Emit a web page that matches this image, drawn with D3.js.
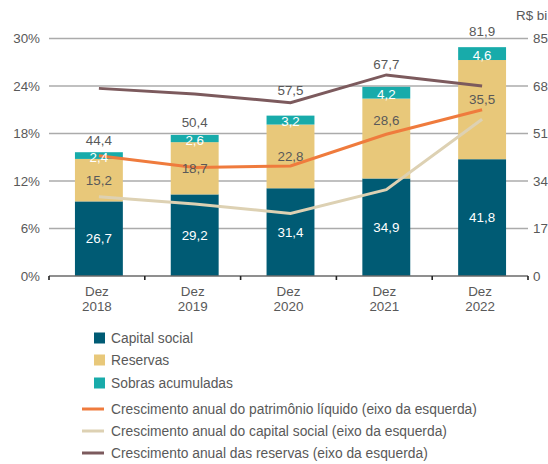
<!DOCTYPE html>
<html>
<head>
<meta charset="utf-8">
<script src="https://cdn.jsdelivr.net/npm/d3@7/dist/d3.min.js"></script>
<style>
  html, body { margin: 0; padding: 0; background: #fff; }
  svg { display: block; font-family: "Liberation Sans", Arial, sans-serif; }
</style>
</head>
<body>
<svg id="chart" width="548" height="464"></svg>
<script>
// Patrimônio líquido (R$ bi) por componente, dezembro de cada ano
const years = ["2018", "2019", "2020", "2021", "2022"];
const capitalSocial = [26.7, 29.2, 31.4, 34.9, 41.8];
const reservas = [15.2, 18.7, 22.8, 28.6, 35.5];
const sobras = [2.4, 2.6, 3.2, 4.2, 4.6];
const totais = [44.4, 50.4, 57.5, 67.7, 81.9];

// Crescimento anual (%), eixo da esquerda
const crescPL = [15.2, 13.7, 13.9, 17.9, 21.0];
const crescCapital = [10.0, 9.1, 7.9, 10.9, 19.8];
const crescReservas = [23.7, 23.0, 21.9, 25.4, 24.0];

const leftTicks = [0, 6, 12, 18, 24, 30];
const rightTicks = [0, 17, 34, 51, 68, 85];

const colors = {
  capital: "#005b74",
  reservas: "#e8c87a",
  sobras: "#18abaa",
  pl: "#ef7b3d",
  capGrowth: "#ddd1b3",
  resGrowth: "#7c5a5d",
  text: "#595959",
  grid: "#ababab",
  base: "#6a6a6a"
};

// extra lift (px) for labels that would otherwise sit on a line
const totalLift = [7, 8, 21, 18, 11];
const reservaLift = [0, 0, 0, 18, 10];

const svg = d3.select("#chart");
const plotLeft = 49, plotRight = 528, plotBottom = 276, plotTop = 38.5;
const barShift = 2;

// category scale for axis ticks/labels; bars and line points sit slightly right of band centre
const xCat = d3.scaleBand().domain(years).range([plotLeft, plotRight])
  .paddingInner(0.5).paddingOuter(0.25);
const x = d3.scaleBand().domain(years).range([plotLeft + barShift, plotRight + barShift])
  .paddingInner(0.5).paddingOuter(0.25);
const step = xCat.step();
const yL = d3.scaleLinear().domain([0, 30]).range([plotBottom, plotTop]);
const yR = d3.scaleLinear().domain([0, 85]).range([plotBottom, plotTop]);
const cx = d => x(d) + x.bandwidth() / 2;
const cxCat = d => xCat(d) + xCat.bandwidth() / 2;

// gridlines
svg.append("g").selectAll("line")
  .data(leftTicks.filter(t => t > 0))
  .join("line")
  .attr("x1", plotLeft).attr("x2", plotRight)
  .attr("y1", d => yL(d)).attr("y2", d => yL(d))
  .attr("stroke", colors.grid).attr("stroke-width", 1.3);

// left axis labels
const axisL = d3.axisLeft(yL).tickValues(leftTicks).tickSize(0).tickPadding(9)
  .tickFormat(d => d + "%");
const gL = svg.append("g").attr("transform", `translate(${plotLeft},0)`).call(axisL);
gL.select(".domain").remove();
gL.selectAll("text").attr("font-size", 13.4).attr("fill", colors.text)
  .attr("font-family", "Liberation Sans, Arial, sans-serif");

// right axis labels
const axisR = d3.axisRight(yR).tickValues(rightTicks).tickSize(0).tickPadding(5);
const gR = svg.append("g").attr("transform", `translate(${plotRight},0)`).call(axisR);
gR.select(".domain").remove();
gR.selectAll("text").attr("font-size", 13.4).attr("fill", colors.text)
  .attr("font-family", "Liberation Sans, Arial, sans-serif");

svg.append("text").attr("x", 516).attr("y", 20)
  .attr("font-size", 13.4).attr("fill", colors.text).text("R$ bi");

// stacked bars
const rows = years.map((yr, i) => ({
  year: yr, capital: capitalSocial[i], reservas: reservas[i], sobras: sobras[i]
}));
const stack = d3.stack().keys(["capital", "reservas", "sobras"]);
const series = stack(rows);

svg.append("g").selectAll("g")
  .data(series)
  .join("g")
  .attr("fill", s => colors[s.key])
  .selectAll("rect")
  .data(s => s)
  .join("rect")
  .attr("x", d => x(d.data.year))
  .attr("width", x.bandwidth())
  .attr("y", d => yR(d[1]))
  .attr("height", d => yR(d[0]) - yR(d[1]));

// baseline with tick marks
svg.append("line")
  .attr("x1", plotLeft).attr("x2", plotRight)
  .attr("y1", plotBottom).attr("y2", plotBottom)
  .attr("stroke", colors.base).attr("stroke-width", 1.6);
const tickXs = d3.range(years.length + 1).map(i => plotLeft + i * step);
svg.append("g").selectAll("line")
  .data(tickXs)
  .join("line")
  .attr("x1", d => d).attr("x2", d => d)
  .attr("y1", plotBottom).attr("y2", plotBottom + 4)
  .attr("stroke", "#222").attr("stroke-width", 1.6);

// growth lines (left axis)
const lineGen = d3.line().x((d, i) => cx(years[i])).y(d => yL(d));
[[crescReservas, colors.resGrowth], [crescCapital, colors.capGrowth], [crescPL, colors.pl]]
  .forEach(([vals, col]) => {
    svg.append("path").datum(vals)
      .attr("d", lineGen)
      .attr("fill", "none")
      .attr("stroke", col)
      .attr("stroke-width", 3);
  });

const fmt = v => d3.format(".1f")(v).replace(".", ",");

// segment labels
const lbl = svg.append("g").attr("font-size", 13.4).attr("text-anchor", "middle");
series.forEach(s => {
  lbl.append("g").selectAll("text")
    .data(s)
    .join("text")
    .attr("x", d => cx(d.data.year))
    .attr("y", (d, i) => (yR(d[0]) + yR(d[1])) / 2 + 4.8
      - (s.key === "reservas" ? reservaLift[i] : 0)
      + (s.key === "sobras" ? 1.5 : 0))
    .attr("fill", s.key === "reservas" ? colors.text : "#ffffff")
    .text(d => fmt(d.data[s.key]));
});

// total labels
lbl.append("g").selectAll("text")
  .data(totais)
  .join("text")
  .attr("x", (d, i) => cx(years[i]))
  .attr("y", (d, i) => yR(series[2][i][1]) - totalLift[i])
  .attr("fill", colors.text)
  .text(d => fmt(d));

// category labels
const xl = svg.append("g").attr("font-size", 13.4).attr("fill", colors.text).attr("text-anchor", "middle");
years.forEach(yr => {
  xl.append("text").attr("x", cxCat(yr)).attr("y", 296).text("Dez");
  xl.append("text").attr("x", cxCat(yr)).attr("y", 311).text(yr);
});

// legend
const legend = svg.append("g").attr("font-size", 13.8).attr("fill", colors.text);
const boxes = [
  ["Capital social", colors.capital, 338],
  ["Reservas", colors.reservas, 360],
  ["Sobras acumuladas", colors.sobras, 383]
];
boxes.forEach(([label, col, yy]) => {
  legend.append("rect").attr("x", 94).attr("y", yy - 5.5).attr("width", 11).attr("height", 11).attr("fill", col);
  legend.append("text").attr("x", 111).attr("y", yy + 5).text(label);
});
const lines = [
  ["Crescimento anual do patrimônio líquido (eixo da esquerda)", colors.pl, 409],
  ["Crescimento anual do capital social (eixo da esquerda)", colors.capGrowth, 431],
  ["Crescimento anual das reservas (eixo da esquerda)", colors.resGrowth, 453]
];
lines.forEach(([label, col, yy]) => {
  legend.append("line").attr("x1", 82).attr("x2", 104).attr("y1", yy).attr("y2", yy)
    .attr("stroke", col).attr("stroke-width", 3);
  legend.append("text").attr("x", 111).attr("y", yy + 5).text(label);
});
</script>
</body>
</html>
